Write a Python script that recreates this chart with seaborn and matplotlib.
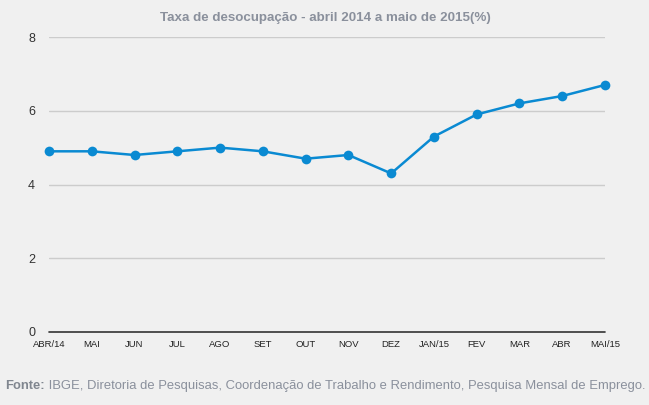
import matplotlib
matplotlib.use("Agg")
import matplotlib.pyplot as plt
import seaborn as sns
import pandas as pd

months = ["ABR/14", "MAI", "JUN", "JUL", "AGO", "SET", "OUT", "NOV", "DEZ",
          "JAN/15", "FEV", "MAR", "ABR", "MAI/15"]
rate = [4.9, 4.9, 4.8, 4.9, 5.0, 4.9, 4.7, 4.8, 4.3, 5.3, 5.9, 6.2, 6.4, 6.7]
yticks = [0, 2, 4, 6, 8]
title = "Taxa de desocupação - abril 2014 a maio de 2015(%)"
source_bold = "Fonte:"
source_rest = " IBGE, Diretoria de Pesquisas, Coordenação de Trabalho e Rendimento, Pesquisa Mensal de Emprego."

sns.set_style("white")
plt.rcParams['font.family'] = ['Liberation Sans', 'DejaVu Sans']

bg = "#f0f0f0"
line_color = "#0a8ad2"

df = pd.DataFrame({"idx": range(len(months)), "rate": rate})

fig = plt.figure(figsize=(6.49, 4.05), dpi=100, facecolor=bg)
ax = fig.add_axes([49/649, 1-332/405, (605-49)/649, (332-37)/405])
ax.set_facecolor(bg)

for y in yticks[1:]:
    ax.axhline(y, color="#cccccc", lw=1, zorder=0)
ax.axhline(0, color="#333333", lw=1.2, zorder=1, clip_on=False)

sns.lineplot(data=df, x="idx", y="rate", ax=ax, color=line_color, lw=1.8,
             marker="o", markersize=7, markeredgewidth=0, clip_on=False, zorder=3)

ax.set_xlim(0, len(months) - 1)
ax.set_ylim(0, 8)
ax.set_xticks(range(len(months)))
ax.set_xticklabels(months, fontsize=6.8, color="#222222")
ax.set_yticks(yticks)
ax.set_yticklabels([str(v) for v in yticks], fontsize=9, color="#333333")
ax.tick_params(axis="x", length=0, pad=6)
ax.tick_params(axis="y", length=0, pad=10)
ax.set_xlabel("")
ax.set_ylabel("")
for s in ax.spines.values():
    s.set_visible(False)

fig.text(325/649, 1-18/405, title, ha="center", va="center", fontsize=9.6,
         fontweight="bold", color="#8a909c")
fs = 9.4
t1 = fig.text(5/649, 1-386/405, source_bold, ha="left", va="center", fontsize=fs,
              fontweight="bold", color="#80868f")
fig.canvas.draw()
bb = t1.get_window_extent()
fig.text(bb.x1/649, 1-386/405, source_rest, ha="left", va="center", fontsize=fs,
         color="#8a909c")

fig.savefig("out.png", dpi=100, facecolor=bg)
